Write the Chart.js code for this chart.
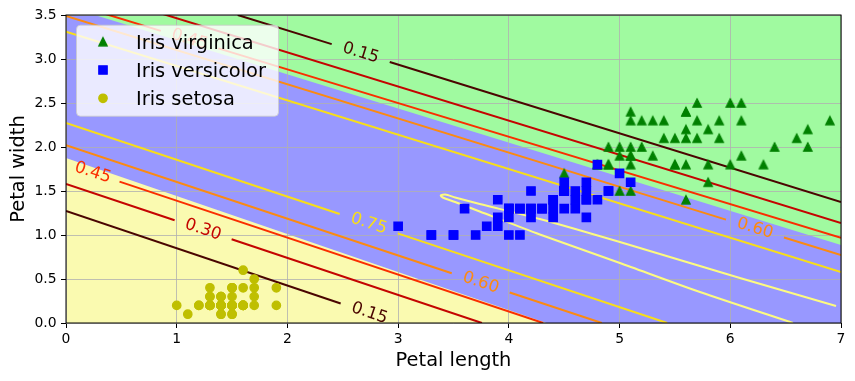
<!DOCTYPE html>
<html><head><meta charset="utf-8">
<script src="https://cdn.jsdelivr.net/npm/chart.js@4/dist/chart.umd.min.js"></script>
<style>html,body{margin:0;padding:0;background:#fff}#wrap{width:855px;height:381px;position:relative}</style>
</head><body><div id="wrap"><canvas id="c" width="855" height="381"></canvas></div>
<script>
// ---------------- data ----------------
const setosaPetalLength = [1.4,1.4,1.3,1.5,1.4,1.7,1.4,1.5,1.4,1.5,1.5,1.6,1.4,1.1,1.2,1.5,1.3,1.4,1.7,1.5,1.7,1.5,1.0,1.7,1.9,1.6,1.6,1.5,1.4,1.6,1.6,1.5,1.5,1.4,1.5,1.2,1.3,1.4,1.3,1.5,1.3,1.3,1.3,1.6,1.9,1.4,1.6,1.4,1.5,1.4];
const setosaPetalWidth  = [0.2,0.2,0.2,0.2,0.2,0.4,0.3,0.2,0.2,0.1,0.2,0.2,0.1,0.1,0.2,0.4,0.4,0.3,0.3,0.3,0.2,0.4,0.2,0.5,0.2,0.2,0.4,0.2,0.2,0.2,0.2,0.4,0.1,0.2,0.2,0.2,0.2,0.1,0.2,0.2,0.3,0.3,0.2,0.6,0.4,0.3,0.2,0.2,0.2,0.2];
const versicolorPetalLength = [4.7,4.5,4.9,4.0,4.6,4.5,4.7,3.3,4.6,3.9,3.5,4.2,4.0,4.7,3.6,4.4,4.5,4.1,4.5,3.9,4.8,4.0,4.9,4.7,4.3,4.4,4.8,5.0,4.5,3.5,3.8,3.7,3.9,5.1,4.5,4.5,4.7,4.4,4.1,4.0,4.4,4.6,4.0,3.3,4.2,4.2,4.2,4.3,3.0,4.1];
const versicolorPetalWidth  = [1.4,1.5,1.5,1.3,1.5,1.3,1.6,1.0,1.3,1.4,1.0,1.5,1.0,1.4,1.3,1.4,1.5,1.0,1.5,1.1,1.8,1.3,1.5,1.2,1.3,1.4,1.4,1.7,1.5,1.0,1.1,1.0,1.2,1.6,1.5,1.6,1.5,1.3,1.3,1.3,1.2,1.4,1.2,1.0,1.3,1.2,1.3,1.3,1.1,1.3];
const virginicaPetalLength = [6.0,5.1,5.9,5.6,5.8,6.6,4.5,6.3,5.8,6.1,5.1,5.3,5.5,5.0,5.1,5.3,5.5,6.7,6.9,5.0,5.7,4.9,6.7,4.9,5.7,6.0,4.8,4.9,5.6,5.8,6.1,6.4,5.6,5.1,5.6,6.1,5.6,5.5,4.8,5.4,5.6,5.1,5.1,5.9,5.7,5.2,5.0,5.2,5.4,5.1];
const virginicaPetalWidth  = [2.5,1.9,2.1,1.8,2.2,2.1,1.7,1.8,1.8,2.5,2.0,1.9,2.1,2.0,2.4,2.3,1.8,2.2,2.3,1.5,2.3,2.0,2.0,1.8,2.1,1.8,1.8,1.8,2.1,1.6,1.9,2.0,2.2,1.5,1.4,2.3,2.4,1.8,1.8,2.1,2.4,2.3,1.9,2.3,2.5,2.3,1.9,2.0,2.3,1.8];

// decision boundaries (petal length, petal width)
const boundaryVirginica = [[0,3.601],[7,0.885]];   // versicolor / virginica
const boundarySetosa    = [[0,1.875],[7,-1.149]];  // setosa / versicolor
const plotTop = [[0,3.5],[7,3.5]];

// contour levels of P(versicolor)
const levelValues = [0.15,0.30,0.45,0.60,0.75,0.90];
const contourLevel = [0,0,1,1,2,2,3,3,4,4,5];
// polylines; null = inline label gap
const contourPaths = [
  [[1.551,3.5],[2.400,3.169],null,[2.924,2.965],[7,1.375]],
  [[0,1.273],[2.481,0.221],null,[3.0,0.0]],
  [[0,3.851],[7,1.135]],
  [[0,1.58],[0.981,1.167],null,[1.496,0.951],[3.757,0]],
  [[0,3.648],[0.856,3.320],null,[1.376,3.121],[7,0.967]],
  [[0,1.81],null,[0.4835,1.607],[4.31,0]],
  [[0,3.488],[5.961,1.175],null,[6.485,0.972],[7,0.772]],
  [[0,2.02],[3.484,0.566],null,[4.008,0.347],[4.84,0]],
  [[0,3.31],[7,0.58]],
  [[0,2.273],[2.472,1.238],null,[2.996,1.019],[5.43,0]],
  [[6.955,0.193],[6.087,0.511],[5.003,0.920],[4.280,1.182],[3.737,1.352],[3.515,1.426],[3.425,1.460],[3.385,1.449],[3.403,1.426],[3.515,1.375],[3.737,1.267],[4.280,1.006],[5.003,0.682],[5.726,0.352],[6.566,0]]
];

// ---------------- styles ----------------
const levelColors = ['#4a0500','#c40400','#fa2e00','#fc8a10','#f8de18','#fdfb80'];
const FONT = '"DejaVu Sans", sans-serif';

function triangleMarker(color){
  const c = document.createElement('canvas'); c.width = 14; c.height = 14;
  const g = c.getContext('2d'); const h = 4.17;
  g.beginPath(); g.moveTo(7,7-h); g.lineTo(7-h,7+h); g.lineTo(7+h,7+h); g.closePath();
  g.fillStyle = color; g.strokeStyle = color; g.lineWidth = 1.3; g.fill(); g.stroke();
  return c;
}
const zip = (xs, ys) => xs.map((v,i)=>({x:v, y:ys[i]}));
const pathToPoints = path => path.map((p,j)=>{
  if (p) return {x:p[0], y:p[1]};
  return {x:(path[j-1][0]+path[j+1][0])/2, y:null};
});

const datasets = [
  {type:'scatter', label:'Iris setosa', data:zip(setosaPetalLength,setosaPetalWidth), pointStyle:'circle', pointRadius:4.2, borderWidth:1.3, backgroundColor:'#bfbf00', borderColor:'#bfbf00'},
  {type:'scatter', label:'Iris versicolor', data:zip(versicolorPetalLength,versicolorPetalWidth), pointStyle:'rect', pointRadius:5.9, borderWidth:1.3, backgroundColor:'#0000ff', borderColor:'#0000ff'},
  {type:'scatter', label:'Iris virginica', data:zip(virginicaPetalLength,virginicaPetalWidth), pointStyle:triangleMarker('#008000'), pointRadius:5, borderWidth:0, backgroundColor:'#008000', borderColor:'#008000'}
];
contourPaths.forEach((path,i)=>{
  datasets.push({type:'line', label:'contour', data:pathToPoints(path), borderColor:levelColors[contourLevel[i]], borderWidth:2,
    pointRadius:0, spanGaps:false, fill:false, clip:0, tension: i===10 ? 0.25 : 0, borderCapStyle:'butt'});
});
const fillSets = [
  {data:boundaryVirginica, fill:'end', color:'#a0faa0'},
  {data:boundarySetosa, fill:'start', color:'#fafab0'},
  {data:plotTop, fill:'start', color:'#9898ff'}
];
fillSets.forEach(f=>{
  datasets.push({type:'line', label:'region', data:f.data.map(p=>({x:p[0],y:p[1]})), fill:f.fill, backgroundColor:f.color,
    borderColor:'rgba(0,0,0,0)', borderWidth:0, pointRadius:0, clip:0, tension:0});
});

const legendOrder = [2,1,0];

const overlay = {
  id:'overlay',
  afterDatasetsDraw(chart){
    const {ctx, chartArea:a, scales:{x, y}} = chart;
    // contour labels
    ctx.save();
    ctx.beginPath(); ctx.rect(a.left, a.top, a.right-a.left, a.bottom-a.top); ctx.clip();
    ctx.font = '16.7px ' + FONT; ctx.textAlign = 'center'; ctx.textBaseline = 'middle';
    contourPaths.forEach((path,i)=>{
      path.forEach((p,j)=>{
        if (p !== null) return;
        const p0 = path[j-1], p1 = path[j+1];
        const x0 = x.getPixelForValue(p0[0]), y0 = y.getPixelForValue(p0[1]);
        const x1 = x.getPixelForValue(p1[0]), y1 = y.getPixelForValue(p1[1]);
        ctx.save();
        ctx.translate((x0+x1)/2, (y0+y1)/2);
        ctx.rotate(Math.atan2(y1-y0, x1-x0));
        ctx.fillStyle = levelColors[contourLevel[i]];
        ctx.fillText(levelValues[contourLevel[i]].toFixed(2), 0, 0);
        ctx.restore();
      });
    });
    ctx.restore();
    // spines
    ctx.save();
    ctx.strokeStyle = '#000'; ctx.lineWidth = 1;
    ctx.strokeRect(a.left, a.top, a.right-a.left, a.bottom-a.top);
    ctx.restore();
    // legend
    ctx.save();
    const L = {x:a.left+10, y:a.top+9.7, w:202, h:91};
    ctx.beginPath(); ctx.roundRect(L.x+0.5, L.y+0.5, L.w, L.h, 4);
    ctx.fillStyle = 'rgba(255,255,255,0.8)'; ctx.fill();
    ctx.strokeStyle = 'rgba(204,204,204,0.8)'; ctx.lineWidth = 1; ctx.stroke();
    legendOrder.forEach((di,k)=>{
      const d = chart.data.datasets[di];
      const cy = L.y + 17 + k*28.3;
      ctx.fillStyle = d.backgroundColor; ctx.strokeStyle = d.borderColor; ctx.lineWidth = d.borderWidth;
      Chart.helpers.drawPoint(ctx, {pointStyle:d.pointStyle, radius:d.pointRadius, borderWidth:d.borderWidth, rotation:0}, L.x+27, cy);
      ctx.fillStyle = '#000'; ctx.font = '19.4px ' + FONT; ctx.textAlign = 'left'; ctx.textBaseline = 'alphabetic';
      ctx.fillText(d.label, L.x+60, cy+7.1);
    });
    ctx.restore();
  }
};

new Chart(document.getElementById('c'), {
  type:'scatter',
  data:{datasets},
  options:{
    responsive:false, animation:false, events:[], devicePixelRatio:1,
    layout:{padding:{left:0, right:14, top:15, bottom:0}},
    plugins:{legend:{display:false}, tooltip:{enabled:false}, filler:{drawTime:'beforeDraw'}},
    scales:{
      x:{type:'linear', min:0, max:7,
        afterFit(s){ s.height = 58; },
        border:{display:false},
        grid:{color:'#b0b0b0', lineWidth:0.8, tickColor:'#000', tickLength:5, tickWidth:1},
        ticks:{stepSize:1, color:'#000', font:{family:FONT, size:13.9}, padding:3, maxRotation:0},
        title:{display:true, text:'Petal length', color:'#000', font:{family:FONT, size:19.4}, padding:{top:0, bottom:8.4}}
      },
      y:{type:'linear', min:0, max:3.5,
        afterFit(s){ s.width = 66; },
        border:{display:false},
        grid:{color:'#b0b0b0', lineWidth:0.8, tickColor:'#000', tickLength:5, tickWidth:1},
        ticks:{stepSize:0.5, color:'#000', font:{family:FONT, size:13.9}, padding:4.5, callback:v=>v.toFixed(1)},
        title:{display:true, text:'Petal width', color:'#000', font:{family:FONT, size:19.4}, padding:{top:7.5, bottom:0}}
      }
    }
  },
  plugins:[overlay]
});
</script></body></html>
